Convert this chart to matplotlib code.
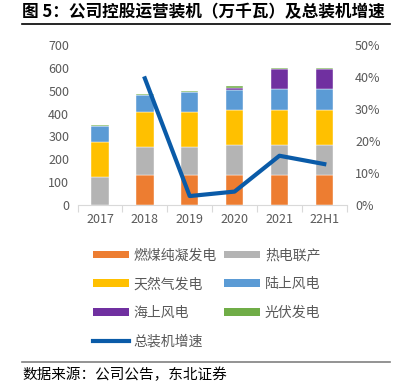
import matplotlib.pyplot as plt
import numpy as np
from matplotlib.patches import Patch
from matplotlib.lines import Line2D

plt.rcParams['font.family'] = ['Noto Sans CJK SC', 'DejaVu Sans']

years = ['2017', '2018', '2019', '2020', '2021', '22H1']
coal = [0, 130, 130, 130, 130, 130]
chp = [122, 125, 125, 131, 131, 131]
gas = [154, 153, 153, 153, 153, 153]
onshore = [69, 73, 85, 89, 93, 93]
offshore = [0, 0, 0, 10, 88, 88]
solar = [4, 6, 6, 8, 5, 5]
growth = [np.nan, 39.6, 2.8, 4.2, 15.4, 12.8]

names = ['燃煤纯凝发电', '热电联产', '天然气发电', '陆上风电', '海上风电', '光伏发电']
colors = ['#ED7D31', '#B4B4B4', '#FFC000', '#5B9BD5', '#7030A0', '#70AD47']
line_color = '#0A5BA8'

fig = plt.figure(figsize=(4.06, 3.92), dpi=100)
ax = fig.add_axes([0.191, 0.477, 0.663, 0.408])
x = np.arange(len(years))

bottom = np.zeros(len(years))
for vals, c in zip([coal, chp, gas, onshore, offshore, solar], colors):
    ax.bar(x, vals, 0.39, bottom=bottom, color=c, edgecolor='white', linewidth=0.3)
    bottom += np.array(vals)

ax.set_xlim(-0.5, len(years) - 0.5)
ax.set_ylim(0, 700)
ax.set_yticks(range(0, 701, 100))
ax.set_xticks(x)
ax.set_xticklabels(years)
ax.set_xticks(np.arange(-0.5, len(years), 1), minor=True)
ax.tick_params(axis='x', which='major', length=0, pad=6, labelsize=9, labelcolor='#595959')
ax.tick_params(axis='x', which='minor', length=5, color='#D9D9D9', width=0.8)
ax.tick_params(axis='y', length=0, labelsize=9, labelcolor='#595959', pad=6)
for s in ['top', 'right', 'left']:
    ax.spines[s].set_visible(False)
ax.spines['bottom'].set_color('#D9D9D9')

ax2 = ax.twinx()
ax2.plot(x, growth, color=line_color, linewidth=3)
ax2.set_ylim(0, 50)
ax2.set_yticks(range(0, 51, 10))
ax2.set_yticklabels([f'{v}%' for v in range(0, 51, 10)])
ax2.tick_params(axis='y', length=0, labelsize=9, labelcolor='#595959', pad=6)
for s in ['top', 'right', 'left', 'bottom']:
    ax2.spines[s].set_visible(False)

handles = [Patch(facecolor=c) for c in colors]
line_h = Line2D([], [], color=line_color, linewidth=3)
order = [0, 2, 4, 6, 1, 3, 5]
all_h = handles + [line_h]
all_n = names + ['总装机增速']
fig.legend([all_h[i] for i in order], [all_n[i] for i in order], ncol=2,
           loc='upper left', bbox_to_anchor=(0.215, 0.38), frameon=False,
           fontsize=10, labelcolor='#595959', handlelength=2.6, handleheight=0.45,
           handletextpad=0.35, columnspacing=0.5, labelspacing=1.05, borderaxespad=0)

fig.text(0.054, 0.968, '图 5：公司控股运营装机（万千瓦）及总装机增速', fontsize=12,
         fontweight='bold', va='center', ha='left')
fig.add_artist(Line2D([0.054, 0.96], [0.94, 0.94], color='black', linewidth=1.2))
fig.add_artist(Line2D([0.054, 0.96], [0.077, 0.077], color='#808080', linewidth=1.2))
fig.text(0.054, 0.043, '数据来源：公司公告，东北证券', fontsize=10.5, va='center', ha='left')

fig.savefig('out.png', dpi=100)
